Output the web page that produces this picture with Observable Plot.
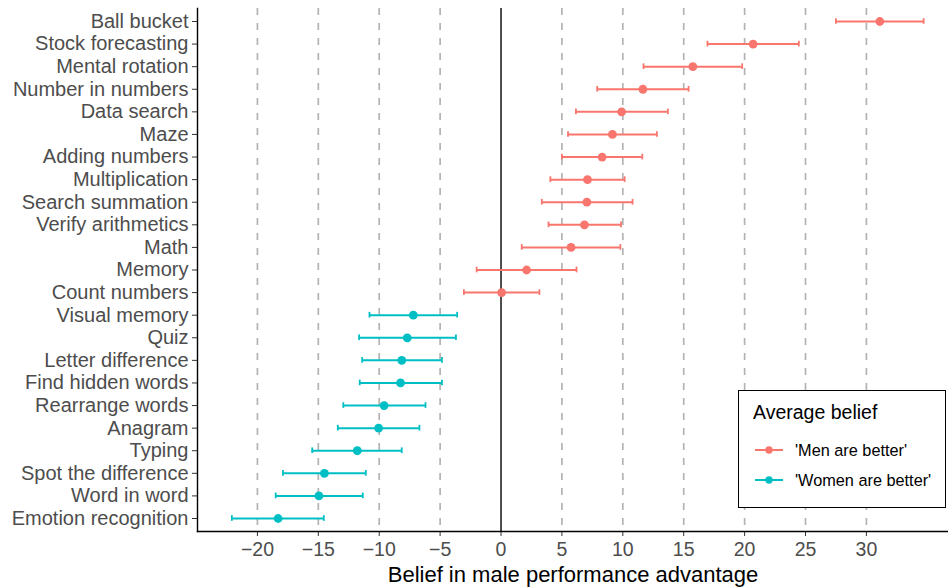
<!DOCTYPE html>
<html>
<head>
<meta charset="utf-8">
<script src="https://cdn.jsdelivr.net/npm/d3@7"></script>
<script src="https://cdn.jsdelivr.net/npm/@observablehq/plot@0.6"></script>
<style>
  html, body { margin: 0; padding: 0; background: #fff; }
  #wrap { position: relative; width: 948px; height: 587px; font-family: "Liberation Sans", Arial, sans-serif; }
  #legend { position: absolute; left: 738px; top: 390px; width: 208px; height: 118px; border: 1.5px solid #000; background: #fff; box-sizing: border-box; }
  #legend .title { position: absolute; left: 14px; top: 10px; font-size: 19.5px; color: #000; white-space: nowrap; }
  #legend .item { position: absolute; left: 16px; height: 20px; display: flex; align-items: center; font-size: 16.3px; color: #000; white-space: nowrap; }
  #legend svg { margin-right: 12px; }
</style>
</head>
<body>
<div id="wrap"></div>
<script>
const tasks = ["Ball bucket","Stock forecasting","Mental rotation","Number in numbers","Data search","Maze","Adding numbers","Multiplication","Search summation","Verify arithmetics","Math","Memory","Count numbers","Visual memory","Quiz","Letter difference","Find hidden words","Rearrange words","Anagram","Typing","Spot the difference","Word in word","Emotion recognition"];
const estimate = [31.1,20.7,15.75,11.65,9.9,9.15,8.3,7.1,7.05,6.85,5.75,2.1,0.05,-7.2,-7.7,-8.15,-8.25,-9.6,-10.05,-11.8,-14.5,-14.95,-18.3];
const lower = [27.5,16.95,11.7,7.9,6.15,5.5,5.0,4.05,3.35,3.9,1.7,-2.0,-3.05,-10.8,-11.65,-11.4,-11.6,-12.95,-13.4,-15.5,-17.9,-18.5,-22.1];
const upper = [34.7,24.45,19.8,15.4,13.7,12.8,11.6,10.15,10.8,9.85,9.8,6.2,3.15,-3.6,-3.7,-4.85,-4.85,-6.2,-6.7,-8.15,-11.1,-11.35,-14.55];
const group = ["'Men are better'","'Men are better'","'Men are better'","'Men are better'","'Men are better'","'Men are better'","'Men are better'","'Men are better'","'Men are better'","'Men are better'","'Men are better'","'Men are better'","'Men are better'","'Women are better'","'Women are better'","'Women are better'","'Women are better'","'Women are better'","'Women are better'","'Women are better'","'Women are better'","'Women are better'","'Women are better'"];
const groupNames = ["'Men are better'", "'Women are better'"];
const groupColors = ["#F8766D", "#00BFC4"];
const xTicks = [-20,-15,-10,-5,0,5,10,15,20,25,30];
const xDomain = [-24.92, 36.74];
const legendTitle = "Average belief";
const xLabel = "Belief in male performance advantage";

const data = tasks.map((t, i) => ({task: t, est: estimate[i], lo: lower[i], hi: upper[i], group: group[i]}));
const gridTicks = xTicks.filter(d => d !== 0);

const chart = Plot.plot({
  width: 948,
  height: 587,
  marginLeft: 197,
  marginRight: 0,
  marginTop: 8,
  marginBottom: 56,
  style: {fontFamily: "'Liberation Sans', Arial, sans-serif", background: "#fff"},
  x: {domain: xDomain, ticks: xTicks, label: null},
  y: {type: "band", domain: tasks, paddingInner: 0.75, paddingOuter: 0.45, round: false, label: null},
  color: {domain: groupNames, range: groupColors},
  marks: [
    Plot.ruleX(gridTicks, {x: d => d, stroke: "#b3b3b3", strokeWidth: 1.7, strokeDasharray: "7,8"}),
    Plot.ruleX([0], {stroke: "#000", strokeWidth: 1.4}),
    Plot.ruleY(data, {y: "task", x1: "lo", x2: "hi", stroke: "group", strokeWidth: 2}),
    Plot.tickX(data, {y: "task", x: "lo", stroke: "group", strokeWidth: 1.8}),
    Plot.tickX(data, {y: "task", x: "hi", stroke: "group", strokeWidth: 1.8}),
    Plot.dot(data, {y: "task", x: "est", fill: "group", r: 4.4}),
    Plot.axisX({ticks: xTicks, tickSize: 5, tickPadding: 6, fontSize: 19.5, color: "#4d4d4d", stroke: "#333", label: xLabel, labelAnchor: "center", labelArrow: false, labelOffset: 50}),
    Plot.axisY({tickSize: 5, tickPadding: 4, fontSize: 20, color: "#4d4d4d", stroke: "#333", label: null}),
    Plot.frame({anchor: "left", stroke: "#000", strokeWidth: 1.4}),
    Plot.frame({anchor: "bottom", stroke: "#000", strokeWidth: 1.4})
  ]
});

const wrap = document.getElementById("wrap");
wrap.appendChild(chart);

d3.select(chart).selectAll("[aria-label='x-axis label'] text").style("fill", "#000").style("font-size", "22px");

const legend = document.createElement("div");
legend.id = "legend";
let html = `<div class="title">${legendTitle}</div>`;
groupNames.forEach((g, i) => {
  const top = 49 + i * 30;
  html += `<div class="item" style="top:${top}px"><svg width="28" height="10"><line x1="0" x2="28" y1="5" y2="5" stroke="${groupColors[i]}" stroke-width="2"/><circle cx="14" cy="5" r="3.7" fill="${groupColors[i]}"/></svg>${g}</div>`;
});
legend.innerHTML = html;
wrap.appendChild(legend);
</script>
</body>
</html>
